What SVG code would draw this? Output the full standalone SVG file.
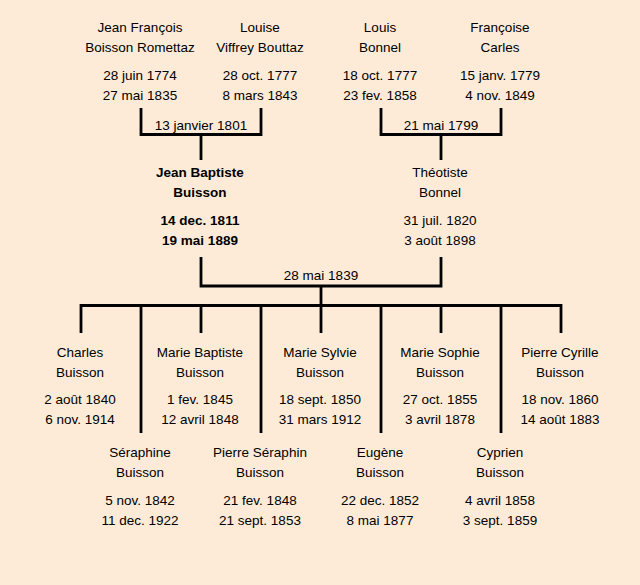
<svg xmlns="http://www.w3.org/2000/svg" width="640" height="585" viewBox="0 0 640 585">
<style>
text{font-family:"Liberation Sans","DejaVu Sans",sans-serif;font-size:13.5px;fill:#000;text-anchor:middle}
.b{font-weight:bold}
.c{stroke:#000;stroke-width:2.8;fill:none}
</style>
<rect width="640" height="585" fill="#fdebd8"/>
<g id="connectors">
<path class="c" d="M141,108V134.5H261V108M201,134.5V160"/>
<path class="c" d="M381,108V134.5H501V108M441,134.5V160"/>
<path class="c" d="M201,257V286H441V257M321,286V305.5"/>
<path class="c" d="M81,333V305.5H561V333M201,305.5V333M321,305.5V333M441,305.5V333"/>
<path class="c" d="M141,305.5V433M261,305.5V433M381,305.5V433M501,305.5V433"/>
<text x="201" y="130">13 janvier 1801</text>
<text x="441" y="130">21 mai 1799</text>
<text x="321" y="280">28 mai 1839</text>
</g>
<g id="jean-francois"><text x="140" y="32">Jean François</text><text x="140" y="52">Boisson Romettaz</text><text x="140" y="80">28 juin 1774</text><text x="140" y="100">27 mai 1835</text></g>
<g id="louise"><text x="260" y="32">Louise</text><text x="260" y="52">Viffrey Bouttaz</text><text x="260" y="80">28 oct. 1777</text><text x="260" y="100">8 mars 1843</text></g>
<g id="louis"><text x="380" y="32">Louis</text><text x="380" y="52">Bonnel</text><text x="380" y="80">18 oct. 1777</text><text x="380" y="100">23 fev. 1858</text></g>
<g id="francoise"><text x="500" y="32">Françoise</text><text x="500" y="52">Carles</text><text x="500" y="80">15 janv. 1779</text><text x="500" y="100">4 nov. 1849</text></g>
<g id="jean-baptiste" class="b"><text class="b" x="200" y="177">Jean Baptiste</text><text class="b" x="200" y="197">Buisson</text><text class="b" x="200" y="225">14 dec. 1811</text><text class="b" x="200" y="245">19 mai 1889</text></g>
<g id="theotiste"><text x="440" y="177">Théotiste</text><text x="440" y="197">Bonnel</text><text x="440" y="225">31 juil. 1820</text><text x="440" y="245">3 août 1898</text></g>
<g id="charles"><text x="80" y="357">Charles</text><text x="80" y="377">Buisson</text><text x="80" y="404">2 août 1840</text><text x="80" y="424">6 nov. 1914</text></g>
<g id="marie-baptiste"><text x="200" y="357">Marie Baptiste</text><text x="200" y="377">Buisson</text><text x="200" y="404">1 fev. 1845</text><text x="200" y="424">12 avril 1848</text></g>
<g id="marie-sylvie"><text x="320" y="357">Marie Sylvie</text><text x="320" y="377">Buisson</text><text x="320" y="404">18 sept. 1850</text><text x="320" y="424">31 mars 1912</text></g>
<g id="marie-sophie"><text x="440" y="357">Marie Sophie</text><text x="440" y="377">Buisson</text><text x="440" y="404">27 oct. 1855</text><text x="440" y="424">3 avril 1878</text></g>
<g id="pierre-cyrille"><text x="560" y="357">Pierre Cyrille</text><text x="560" y="377">Buisson</text><text x="560" y="404">18 nov. 1860</text><text x="560" y="424">14 août 1883</text></g>
<g id="seraphine"><text x="140" y="457">Séraphine</text><text x="140" y="477">Buisson</text><text x="140" y="505">5 nov. 1842</text><text x="140" y="525">11 dec. 1922</text></g>
<g id="pierre-seraphin"><text x="260" y="457">Pierre Séraphin</text><text x="260" y="477">Buisson</text><text x="260" y="505">21 fev. 1848</text><text x="260" y="525">21 sept. 1853</text></g>
<g id="eugene"><text x="380" y="457">Eugène</text><text x="380" y="477">Buisson</text><text x="380" y="505">22 dec. 1852</text><text x="380" y="525">8 mai 1877</text></g>
<g id="cyprien"><text x="500" y="457">Cyprien</text><text x="500" y="477">Buisson</text><text x="500" y="505">4 avril 1858</text><text x="500" y="525">3 sept. 1859</text></g>
</svg>
